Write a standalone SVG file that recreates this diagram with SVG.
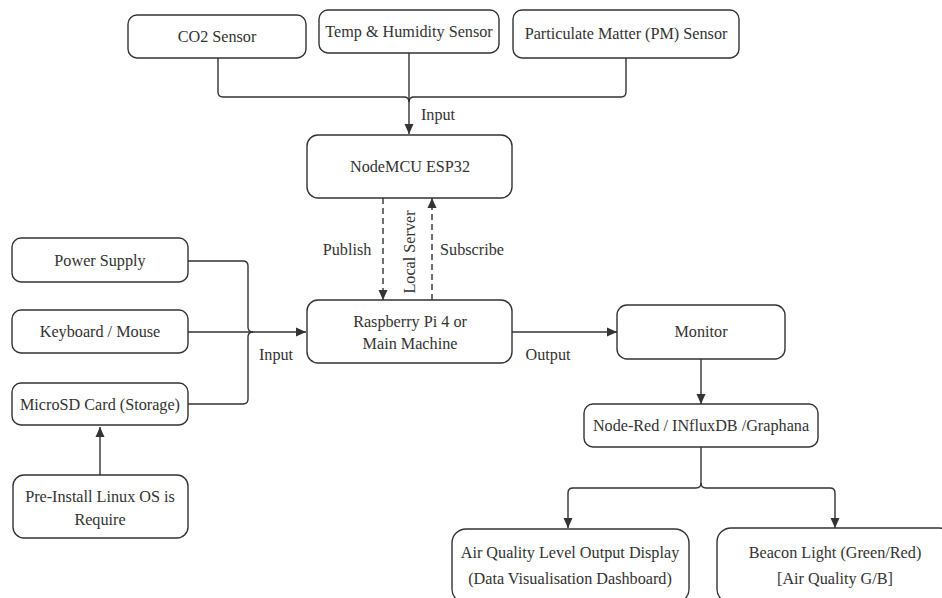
<svg xmlns="http://www.w3.org/2000/svg" width="942" height="598" viewBox="0 0 942 598">
<defs>
<style>
.n rect{fill:#fff;stroke:#333;stroke-width:1.4}
text{font-family:"Liberation Serif","DejaVu Serif",serif;font-size:16.2px;fill:#333;text-anchor:middle;dominant-baseline:central}
.c path{fill:none;stroke:#333;stroke-width:1.4}
.d{stroke-dasharray:6 4}
</style>
<marker id="a" viewBox="0 0 10 10" refX="10" refY="5" markerWidth="10" markerHeight="10" markerUnits="userSpaceOnUse" orient="auto">
<path d="M0,0.5 L10,5 L0,9.5 z" fill="#333"/>
</marker>
</defs>
<rect width="942" height="598" fill="#fff"/>
<g class="c" id="connectors">
<path d="M218,58 V92 q0,5 5,5 H404 q5,0 5,5"/>
<path d="M626,58 V92 q0,5 -5,5 H414 q-5,0 -5,5"/>
<path d="M409,53 V134" marker-end="url(#a)"/>
<path class="d" d="M383,198 V300" marker-end="url(#a)"/>
<path class="d" d="M432,300 V198" marker-end="url(#a)"/>
<path d="M188,261 H243 q5,0 5,5 V327 q0,5 5,5"/>
<path d="M188,404 H243 q5,0 5,-5 V337 q0,-5 5,-5"/>
<path d="M188,332 H306" marker-end="url(#a)"/>
<path d="M512,332 H617" marker-end="url(#a)"/>
<path d="M701,359 V404" marker-end="url(#a)"/>
<path d="M701,447 V483 q0,5 -5,5 H573 q-5,0 -5,5 V528" marker-end="url(#a)"/>
<path d="M701,483 q0,5 5,5 H830 q5,0 5,5 V528" marker-end="url(#a)"/>
<text x="438" y="115">Input</text>
<text x="347" y="250">Publish</text>
<text x="472" y="250">Subscribe</text>
<text transform="translate(410,252) rotate(-90)">Local Server</text>
<text x="276" y="355">Input</text>
<text x="548" y="355">Output</text>
</g>
<g class="n" id="co2"><rect x="128" y="15" width="178" height="43" rx="9"/><text x="217" y="37">CO2 Sensor</text></g>
<g class="n" id="temp"><rect x="319" y="10" width="180" height="43" rx="9"/><text x="409" y="32">Temp &amp; Humidity Sensor</text></g>
<g class="n" id="pm"><rect x="513" y="10" width="226" height="48" rx="9"/><text x="626" y="34">Particulate Matter (PM) Sensor</text></g>
<g class="n" id="esp"><rect x="307" y="135" width="205" height="63" rx="11"/><text x="410" y="167">NodeMCU ESP32</text></g>
<g class="n" id="rpi"><rect x="307" y="300" width="205" height="63" rx="11"/><text x="410" y="322">Raspberry Pi 4 or</text><text x="410" y="344">Main Machine</text></g>
<g class="n" id="power"><rect x="12" y="238" width="176" height="44" rx="9"/><text x="100" y="261">Power Supply</text></g>
<g class="n" id="kb"><rect x="12" y="310" width="176" height="43" rx="9"/><text x="100" y="332">Keyboard / Mouse</text></g>
<g class="n" id="sd"><rect x="12" y="383" width="176" height="42" rx="9"/><text x="100" y="405">MicroSD Card (Storage)</text></g>
<g class="n" id="os"><rect x="13" y="475" width="175" height="63" rx="11"/><text x="100" y="497">Pre-Install Linux OS is</text><text x="100" y="520">Require</text></g>
<path d="M100,475 V427" fill="none" stroke="#333" stroke-width="1.4" marker-end="url(#a)"/>
<g class="n" id="monitor"><rect x="617" y="305" width="168" height="54" rx="10"/><text x="701" y="332">Monitor</text></g>
<g class="n" id="nodered"><rect x="584" y="404" width="234" height="43" rx="9"/><text x="701" y="426">Node-Red / INfluxDB /Graphana</text></g>
<g class="n" id="display"><rect x="452" y="529" width="237" height="74" rx="14"/><text x="570" y="553">Air Quality Level Output Display</text><text x="570" y="579">(Data Visualisation Dashboard)</text></g>
<g class="n" id="beacon"><rect x="717" y="528" width="236" height="75" rx="14"/><text x="835" y="553">Beacon Light (Green/Red)</text><text x="835" y="579">[Air Quality G/B]</text></g>
</svg>
